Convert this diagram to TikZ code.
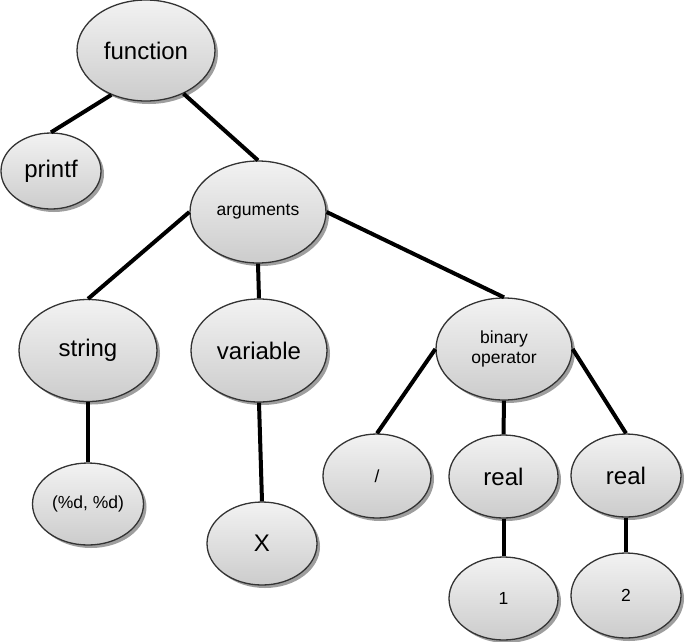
\documentclass[tikz,border=0pt]{standalone}
\usepackage{fontspec}
\setmainfont{Liberation Sans}
\usetikzlibrary{shapes.geometric,shadows}
\tikzset{
  tn/.style={ellipse, draw=black!80, line width=1.3pt, inner sep=0pt,
    top color=black!5, bottom color=black!20,
    drop shadow={shadow xshift=3pt, shadow yshift=-3pt, fill=black!38, opacity=1},
    align=center},
  big/.style={font=\fontsize{24}{26}\selectfont},
  small/.style={font=\fontsize{17.5}{20}\selectfont},
  edge/.style={line width=4pt, black}
}
\begin{document}
\begin{tikzpicture}[x=1pt,y=-1pt]
\useasboundingbox (0,0) rectangle (686,641);
\node[tn,big,minimum width=138pt,minimum height=101pt] (function) at (146,50.5) {function};
\node[tn,big,minimum width=100pt,minimum height=76pt] (printf) at (51,171) {printf};
\node[tn,small,minimum width=136pt,minimum height=102pt] (arguments) at (258,212) {arguments};
\node[tn,big,minimum width=138pt,minimum height=102pt] (string) at (88,350.5) {string};
\node[tn,big,minimum width=136pt,minimum height=103pt] (variable) at (259,350.5) {variable};
\node[tn,small,minimum width=111pt,minimum height=82pt] (fmt) at (88,504) {(\%d, \%d)};
\node[tn,big,minimum width=110pt,minimum height=83pt] (x) at (262,543.5) {X};
\node[tn,small,minimum width=136pt,minimum height=102pt] (binop) at (504,349) {binary\\operator};
\node[tn,small,minimum width=108pt,minimum height=84pt] (slash) at (377,476) {/};
\node[tn,big,minimum width=109pt,minimum height=83pt] (real1) at (503.5,476.5) {real};
\node[tn,big,minimum width=110pt,minimum height=83pt] (real2) at (626,475.5) {real};
\node[tn,small,minimum width=109pt,minimum height=83pt] (one) at (503.5,598.5) {1};
\node[tn,small,minimum width=110pt,minimum height=85pt] (two) at (626,595.5) {2};
\draw[edge] (function.-128) -- (printf.north);
\draw[edge] (function.-49) -- (arguments.north);
\draw[edge] (arguments.west) -- (string.north);
\draw[edge] (arguments.south) -- (variable.north);
\draw[edge] (arguments.east) -- (binop.north);
\draw[edge] (string.south) -- (fmt.north);
\draw[edge] (variable.south) -- (x.north);
\draw[edge] (binop.west) -- (slash.north);
\draw[edge] (binop.south) -- (real1.north);
\draw[edge] (binop.east) -- (real2.north);
\draw[edge] (real1.south) -- (one.north);
\draw[edge] (real2.south) -- (two.north);
\end{tikzpicture}
\end{document}
